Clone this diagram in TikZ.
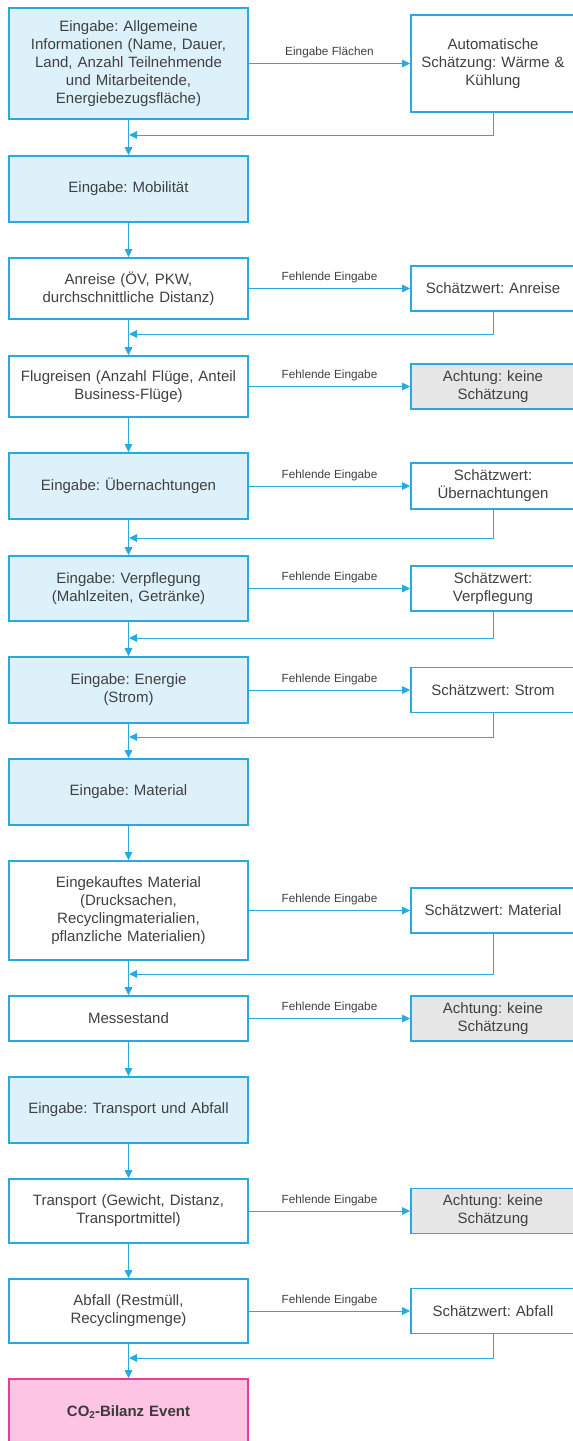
\documentclass[tikz,border=0pt]{standalone}
\usepackage{fontspec}
\setmainfont{Liberation Sans}
\usetikzlibrary{arrows.meta}
\frenchspacing
\definecolor{cblue}{HTML}{29A9E1}
\definecolor{cfill}{HTML}{DDF1FB}
\definecolor{cgrey}{HTML}{E6E6E6}
\definecolor{cpink}{HTML}{FDC4E3}
\definecolor{cpinkb}{HTML}{EE3A97}
\definecolor{ctext}{HTML}{404040}
\tikzset{
  x=1pt, y=-1pt,
  base/.style={draw=cblue, line width=1.6pt, inner sep=0pt, align=center,
    text=ctext, font=\fontsize{15}{18}\selectfont},
  lbox/.style={base, minimum width=239pt, text width=235pt},
  rbox/.style={base, minimum width=164pt, text width=160pt, minimum height=45pt},
  blue/.style={fill=cfill},
  grey/.style={fill=cgrey},
  pinkbox/.style={base, fill=cpink, draw=cpinkb, minimum width=239pt, text width=235pt,
    font=\fontsize{15}{18}\selectfont\bfseries, text=ctext!90!black},
  conn/.style={draw=cblue, line width=1pt, -{Triangle[length=8pt,width=7.5pt]}},
  line/.style={draw=cblue, line width=1pt},
  lbl/.style={anchor=base, yshift=8pt, text=ctext, font=\fontsize{11.8}{14}\selectfont, inner sep=0pt}
}
\begin{document}
\begin{tikzpicture}
\useasboundingbox (0,0) rectangle (573,1441);
\clip (0,0) rectangle (573,1441);
% left column
\node[lbox,blue,minimum height=111pt] (gen) at (128.5,63.5) {Eingabe: Allgemeine\\Informationen (Name, Dauer,\\Land, Anzahl Teilnehmende\\und Mitarbeitende,\\Energiebezugsfläche)};
\node[lbox,blue,minimum height=66pt] (mob) at (128.5,189) {Eingabe: Mobilität};
\node[lbox,minimum height=61pt] (anr) at (128.5,288.5) {Anreise (ÖV, PKW,\\durchschnittliche Distanz)};
\node[lbox,minimum height=61pt] (flug) at (128.5,386.5) {Flugreisen (Anzahl Flüge, Anteil\\Business-Flüge)};
\node[lbox,blue,minimum height=66pt] (ueb) at (128.5,486) {Eingabe: Übernachtungen};
\node[lbox,blue,minimum height=65pt] (verpf) at (128.5,588.5) {Eingabe: Verpflegung\\(Mahlzeiten, Getränke)};
\node[lbox,blue,minimum height=66pt] (ener) at (128.5,690) {Eingabe: Energie\\(Strom)};
\node[lbox,blue,minimum height=66pt] (mat) at (128.5,792) {Eingabe: Material};
\node[lbox,minimum height=99pt] (eink) at (128.5,910.5) {Eingekauftes Material\\(Drucksachen,\\Recyclingmaterialien,\\pflanzliche Materialien)};
\node[lbox,minimum height=45pt] (messe) at (128.5,1018.5) {Messestand};
\node[lbox,blue,minimum height=66pt] (ta) at (128.5,1110) {Eingabe: Transport und Abfall};
\node[lbox,minimum height=64pt] (trans) at (128.5,1211) {Transport (Gewicht, Distanz,\\Transportmittel)};
\node[lbox,minimum height=64pt] (abf) at (128.5,1311) {Abfall (Restmüll,\\Recyclingmenge)};
\node[pinkbox,minimum height=66pt] (co2) at (128.5,1412) {CO\raisebox{-0.3ex}{\fontsize{10}{10}\selectfont 2}-Bilanz Event};
% right column
\node[rbox,minimum height=97pt] (r1) at (493,63.5) {Automatische\\Schätzung: Wärme \&\\Kühlung};
\node[rbox] (r3) at (493,288.5) {Schätzwert: Anreise};
\node[rbox,grey] (r4) at (493,386.5) {Achtung: keine\\Schätzung};
\node[rbox,minimum height=46pt] (r5) at (493,486) {Schätzwert:\\Übernachtungen};
\node[rbox] (r6) at (493,588.5) {Schätzwert:\\Verpflegung};
\node[rbox] (r7) at (493,690) {Schätzwert: Strom};
\node[rbox] (r9) at (493,910.5) {Schätzwert: Material};
\node[rbox,grey] (r10) at (493,1018.5) {Achtung: keine\\Schätzung};
\node[rbox,grey] (r12) at (493,1211) {Achtung: keine\\Schätzung};
\node[rbox] (r13) at (493,1311) {Schätzwert: Abfall};
% junction points
\coordinate (j1) at (128.5,135);
\coordinate (j3) at (128.5,334);
\coordinate (j5) at (128.5,538);
\coordinate (j6) at (128.5,638);
\coordinate (j7) at (128.5,737);
\coordinate (j9) at (128.5,974);
\coordinate (j13) at (128.5,1358);
% vertical flow
\foreach \a/\b in {gen/mob, mob/anr, anr/flug, flug/ueb, ueb/verpf, verpf/ener, ener/mat, mat/eink, eink/messe, messe/ta, ta/trans, trans/abf, abf/co2}
  \draw[conn] (\a.south) -- (\b.north);
% horizontal arrows
\draw[conn] (gen.east) -- node[lbl] {Eingabe Flächen} (r1.west);
\foreach \a/\b in {anr/r3, flug/r4, ueb/r5, verpf/r6, ener/r7, eink/r9, messe/r10, trans/r12, abf/r13}
  \draw[conn] (\a.east) -- node[lbl] {Fehlende Eingabe} (\b.west);
% return lines
\foreach \r/\j in {r1/j1, r3/j3, r5/j5, r6/j6, r7/j7, r9/j9, r13/j13}
  \draw[conn] (\r.south) |- ([xshift=0.5pt]\j);
\end{tikzpicture}
\end{document}
